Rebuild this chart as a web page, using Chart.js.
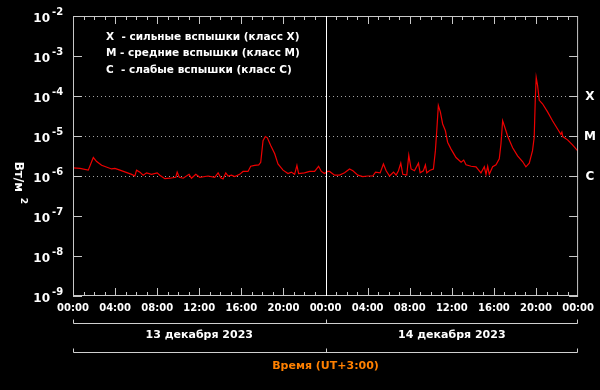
<!DOCTYPE html>
<html>
<head>
<meta charset="utf-8">
<script src="https://cdn.jsdelivr.net/npm/chart.js@4/dist/chart.umd.min.js"></script>
<style>
    html, body { margin: 0; padding: 0; background: #000; }
    #wrap { width: 600px; height: 390px; }
</style>
</head>
<body>
<div id="wrap"><canvas id="flareChart" width="600" height="390"></canvas></div>
<script>
// Hours since 13 Dec 2023 00:00 (UT+3)
const hours = [
    0, 0.66, 1.45, 1.93, 2.25, 2.72, 3.67, 3.98, 4.46, 5.57, 5.88, 6.04, 6.36, 6.67, 6.99,
    7.46, 8.0, 8.25, 8.73, 9.2, 9.77, 9.9, 10.1, 10.47, 11.03, 11.26, 11.67, 12.05, 12.84,
    13.47, 13.79, 14.04, 14.26, 14.52, 14.74, 15.06, 15.37, 15.84, 16.16, 16.63, 16.89,
    17.27, 17.65, 17.84, 18.06, 18.28, 18.47, 18.79, 19.17, 19.48, 19.96, 20.43, 20.75,
    21.06, 21.28, 21.44, 22.0, 22.49, 22.96, 23.34, 23.6, 23.9, 24.2, 24.38, 24.86, 25.33,
    25.81, 26.28, 26.6, 27.07, 27.54, 28.02, 28.49, 28.75, 29.19, 29.5, 29.76, 30.08,
    30.46, 30.71, 30.93, 31.15, 31.34, 31.72, 31.91, 32.13, 32.45, 32.83, 32.99, 33.3,
    33.49, 33.62, 33.94, 34.25, 34.44, 34.57, 34.72, 34.91, 35.13, 35.39, 35.6, 35.93,
    36.4, 36.88, 37.13, 37.35, 37.83, 38.3, 38.61, 38.77, 39.09, 39.25, 39.41, 39.56,
    39.88, 40.2, 40.51, 40.67, 40.83, 40.99, 41.3, 41.78, 42.25, 42.72, 43.04, 43.36,
    43.67, 43.83, 43.93, 44.02, 44.15, 44.31, 44.62, 45.1, 45.57, 46.05, 46.36, 46.46,
    46.55, 47.0, 47.47, 47.94, 48
];

// X-ray flux, W/m^2
const flux = [
    1.6e-6, 1.55e-6, 1.4e-6, 2.9e-6, 2.3e-6, 1.85e-6, 1.5e-6, 1.55e-6, 1.4e-6, 1.1e-6, 1.0e-6, 1.4e-6, 1.25e-6, 1.05e-6, 1.2e-6,
    1.1e-6, 1.2e-6, 1.05e-6, 8.6e-7, 8.8e-7, 9.3e-7, 1.25e-6, 9.3e-7, 8.8e-7, 1.1e-6, 8.8e-7, 1.1e-6, 9.3e-7, 1.0e-6,
    9.3e-7, 1.2e-6, 9.0e-7, 8.4e-7, 1.2e-6, 1.0e-6, 1.05e-6, 9.7e-7, 1.1e-6, 1.3e-6, 1.3e-6, 1.75e-6,
    1.85e-6, 1.9e-6, 2.2e-6, 7.6e-6, 9.7e-6, 9.0e-6, 5.8e-6, 3.6e-6, 2.0e-6, 1.4e-6, 1.15e-6, 1.25e-6,
    1.1e-6, 1.85e-6, 1.15e-6, 1.2e-6, 1.3e-6, 1.3e-6, 1.75e-6, 1.3e-6, 1.15e-6, 1.3e-6, 1.3e-6, 1.05e-6, 1.05e-6,
    1.2e-6, 1.5e-6, 1.35e-6, 1.05e-6, 9.7e-7, 1.0e-6, 1.0e-6, 1.25e-6, 1.2e-6, 2.0e-6, 1.35e-6, 1.0e-6,
    1.25e-6, 1.05e-6, 1.35e-6, 2.1e-6, 1.1e-6, 1.05e-6, 3.3e-6, 1.5e-6, 1.35e-6, 2.1e-6, 1.2e-6, 1.35e-6,
    1.9e-6, 1.2e-6, 1.4e-6, 1.5e-6, 4.3e-6, 1.35e-5, 5.8e-5, 4.0e-5, 2.0e-5, 1.35e-5, 7.0e-6, 4.7e-6,
    2.9e-6, 2.2e-6, 2.5e-6, 1.9e-6, 1.75e-6, 1.7e-6, 1.35e-6, 1.2e-6, 1.7e-6, 1.1e-6, 1.75e-6, 1.1e-6,
    1.7e-6, 1.9e-6, 2.7e-6, 6.3e-6, 2.4e-5, 1.8e-5, 1.0e-5, 5.1e-6, 3.2e-6, 2.3e-6, 1.7e-6, 2.1e-6,
    4.3e-6, 9.3e-6, 7.8e-5, 2.9e-4, 1.85e-4, 7.8e-5, 6.4e-5, 4.0e-5, 2.4e-5, 1.5e-5, 1.1e-5, 1.25e-5,
    9.7e-6, 8.0e-6, 6.0e-6, 4.3e-6, 4.2e-6
];

const yExponents = [-2, -3, -4, -5, -6, -7, -8, -9];
const classLevels = [1e-4, 1e-5, 1e-6];
const classNames = ['X', 'M', 'C'];
const legendLines = [
    'X  - сильные вспышки (класс X)',
    'M - средние вспышки (класс M)',
    'C  - слабые вспышки (класс C)'
];
const dayLabels = ['13 декабря 2023', '14 декабря 2023'];
const timeTitle = 'Время (UT+3:00)';

const FONT = '"DejaVu Sans", Verdana, sans-serif';

function pad2(n) { return (n < 10 ? '0' : '') + n; }

// Decorations drawn through the chart scales
const decorPlugin = {
    id: 'decor',
    beforeDatasetsDraw(chart) {
        const ctx = chart.ctx;
        const y = chart.scales.y;
        const a = chart.chartArea;
        ctx.save();
        // dotted class lines
        ctx.strokeStyle = '#a0a0a0';
        ctx.lineWidth = 1;
        ctx.setLineDash([1, 3]);
        classLevels.forEach(v => {
            const py = Math.round(y.getPixelForValue(v)) + 0.5;
            ctx.beginPath();
            ctx.moveTo(a.left, py);
            ctx.lineTo(a.right, py);
            ctx.stroke();
        });
        ctx.restore();
    },
    afterDatasetsDraw(chart) {
        const ctx = chart.ctx;
        const x = chart.scales.x, y = chart.scales.y;
        const a = chart.chartArea;
        ctx.save();
        ctx.setLineDash([]);
        ctx.strokeStyle = '#c8c8c8';
        ctx.lineWidth = 1;
        // frame
        ctx.strokeRect(a.left + 0.5, a.top + 0.5, a.right - a.left - 1, a.bottom - a.top - 1);
        // hourly ticks on top and bottom
        ctx.beginPath();
        for (let h = 1; h < 48; h++) {
            const px = Math.round(x.getPixelForValue(h)) + 0.5;
            const len = h % 4 === 0 ? 8 : 4;
            ctx.moveTo(px, a.bottom);
            ctx.lineTo(px, a.bottom - len);
            ctx.moveTo(px, a.top);
            ctx.lineTo(px, a.top + len);
        }
        // decade ticks on left and right
        yExponents.forEach(e => {
            const py = Math.round(y.getPixelForValue(Math.pow(10, e))) + 0.5;
            ctx.moveTo(a.left, py);
            ctx.lineTo(a.left + 9, py);
            ctx.moveTo(a.right, py);
            ctx.lineTo(a.right - 9, py);
        });
        ctx.stroke();
        // day boundary
        ctx.strokeStyle = '#ffffff';
        const mid = Math.round(x.getPixelForValue(24)) + 0.5;
        ctx.beginPath();
        ctx.moveTo(mid, a.top);
        ctx.lineTo(mid, a.bottom);
        ctx.stroke();

        ctx.fillStyle = '#ffffff';
        // y tick labels 10^n
        yExponents.forEach(e => {
            const py = y.getPixelForValue(Math.pow(10, e));
            ctx.font = 'bold 12px ' + FONT;
            ctx.textAlign = 'right';
            ctx.textBaseline = 'middle';
            ctx.fillText('10', 50, py + 3);
            ctx.font = 'bold 10px ' + FONT;
            ctx.textAlign = 'left';
            ctx.fillText(String(e), 52, py - 4);
        });
        // class letters on the right
        ctx.font = 'bold 12px ' + FONT;
        ctx.textAlign = 'center';
        classLevels.forEach((v, i) => {
            ctx.fillText(classNames[i], 590, y.getPixelForValue(v) + 1);
        });
        // legend text
        ctx.font = 'bold 10.5px ' + FONT;
        ctx.textAlign = 'left';
        legendLines.forEach((t, i) => {
            ctx.fillText(t, 106, 37 + i * 16.5);
        });
        // y axis title, rotated
        ctx.save();
        ctx.translate(18, 181);
        ctx.rotate(Math.PI / 2);
        ctx.font = 'bold 12px ' + FONT;
        ctx.textAlign = 'center';
        ctx.fillText('Вт/м  ', 0, 0);
        ctx.font = 'bold 9px ' + FONT;
        ctx.fillText('2', 20, -5);
        ctx.restore();

        // day brackets
        const x0 = Math.round(x.getPixelForValue(0)) + 0.5;
        const x1 = Math.round(x.getPixelForValue(48)) - 0.5;
        ctx.strokeStyle = '#d0d0d0';
        ctx.beginPath();
        [323.5, 352.5].forEach(by => {
            ctx.moveTo(x0, by);
            ctx.lineTo(x1, by);
            [x0, mid, x1].forEach(tx => {
                ctx.moveTo(tx, by);
                ctx.lineTo(tx, by - 4);
            });
        });
        ctx.stroke();
        ctx.font = 'bold 11px ' + FONT;
        ctx.textAlign = 'center';
        ctx.fillStyle = '#ffffff';
        ctx.fillText(dayLabels[0], x.getPixelForValue(12), 335);
        ctx.fillText(dayLabels[1], x.getPixelForValue(36), 335);
        ctx.fillStyle = '#ff8000';
        ctx.fillText(timeTitle, x.getPixelForValue(24), 366);
        ctx.restore();
    }
};

document.addEventListener('DOMContentLoaded', () => {
    const ctx = document.getElementById('flareChart').getContext('2d');
    new Chart(ctx, {
        type: 'line',
        data: {
            datasets: [{
                data: hours.map((h, i) => ({ x: h, y: flux[i] })),
                borderColor: '#ee0000',
                borderWidth: 1.2,
                pointRadius: 0,
                tension: 0,
                fill: false
            }]
        },
        options: {
            responsive: false,
            animation: false,
            devicePixelRatio: 1,
            layout: { padding: { top: 16, right: 21, left: 0, bottom: 0 } },
            plugins: {
                legend: { display: false },
                tooltip: { enabled: false }
            },
            scales: {
                x: {
                    type: 'linear',
                    min: 0,
                    max: 48,
                    grid: { display: false, drawTicks: false },
                    border: { display: false },
                    afterFit: s => { s.height = 94; },
                    afterBuildTicks: s => {
                        s.ticks = [];
                        for (let h = 0; h <= 48; h += 4) s.ticks.push({ value: h });
                    },
                    ticks: {
                        color: '#ffffff',
                        font: { family: FONT, weight: 'bold', size: 10 },
                        padding: 6,
                        autoSkip: false,
                        maxRotation: 0,
                        callback: v => pad2(v % 24) + ':00'
                    }
                },
                y: {
                    type: 'logarithmic',
                    min: 1e-9,
                    max: 1e-2,
                    grid: { display: false },
                    border: { display: false },
                    ticks: { display: false },
                    afterFit: s => { s.width = 73; }
                }
            }
        },
        plugins: [decorPlugin]
    });
});
</script>
</body>
</html>
